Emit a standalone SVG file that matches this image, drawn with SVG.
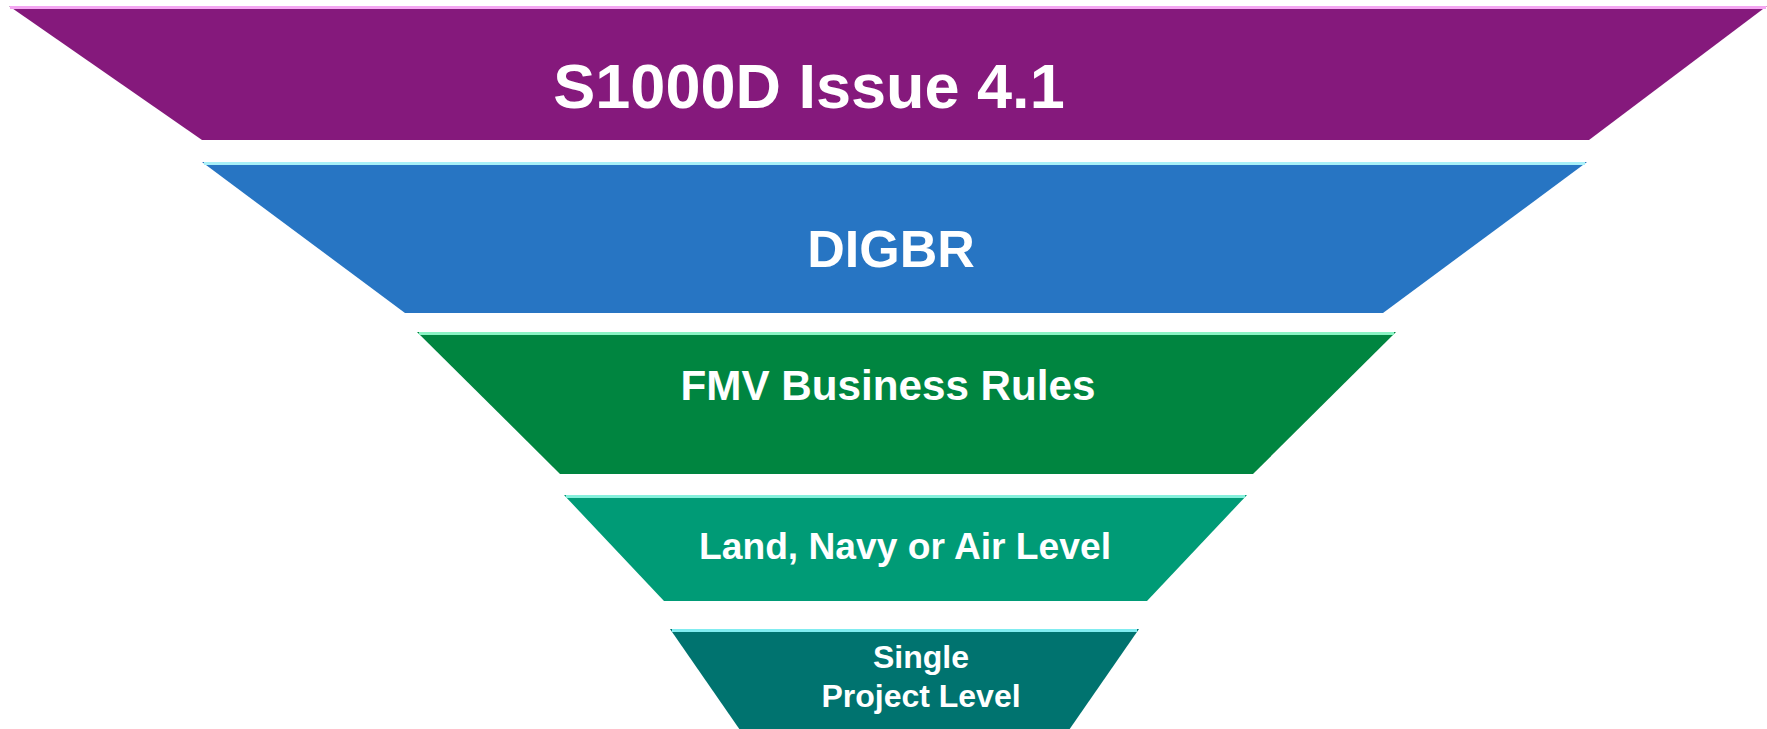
<svg xmlns="http://www.w3.org/2000/svg" width="1767" height="729" viewBox="0 0 1767 729">
<style>
.t{font-family:"Liberation Sans",Arial,sans-serif;font-weight:bold;fill:#ffffff;text-anchor:middle}
.hl{stroke-width:3;fill:none}
</style>
<rect width="1767" height="729" fill="#ffffff"/>
<g id="level1">
<polygon points="9,6 1767,6 1589,140 202,140" fill="#85197c"/>
<line class="hl" x1="10" y1="7.5" x2="1766" y2="7.5" stroke="#f4a6f2"/>
<text class="t" x="809" y="108" font-size="63">S1000D Issue 4.1</text>
</g>
<g id="level2">
<polygon points="202,162 1587,162 1383,313 405,313" fill="#2775c3"/>
<line class="hl" x1="204" y1="163.5" x2="1585" y2="163.5" stroke="#a8f0f8"/>
<text class="t" x="891" y="267" font-size="52">DIGBR</text>
</g>
<g id="level3">
<polygon points="417,332 1396,332 1253,474 560,474" fill="#008540"/>
<line class="hl" x1="419" y1="333.5" x2="1394" y2="333.5" stroke="#8af4c4"/>
<text class="t" x="888" y="400" font-size="42.2">FMV Business Rules</text>
</g>
<g id="level4">
<polygon points="564,495 1247,495 1147,601 664,601" fill="#009b76"/>
<line class="hl" x1="566" y1="496.5" x2="1245" y2="496.5" stroke="#86f0dc"/>
<text class="t" x="905" y="559" font-size="37.2">Land, Navy or Air Level</text>
</g>
<g id="level5">
<polygon points="670,629 1139,629 1069,730 740,730" fill="#00736f"/>
<line class="hl" x1="672" y1="630.5" x2="1137" y2="630.5" stroke="#80ecf0"/>
<text class="t" x="921" y="668" font-size="32">Single</text>
<text class="t" x="921" y="707" font-size="32">Project Level</text>
</g>
<g id="connectors"></g>
</svg>
